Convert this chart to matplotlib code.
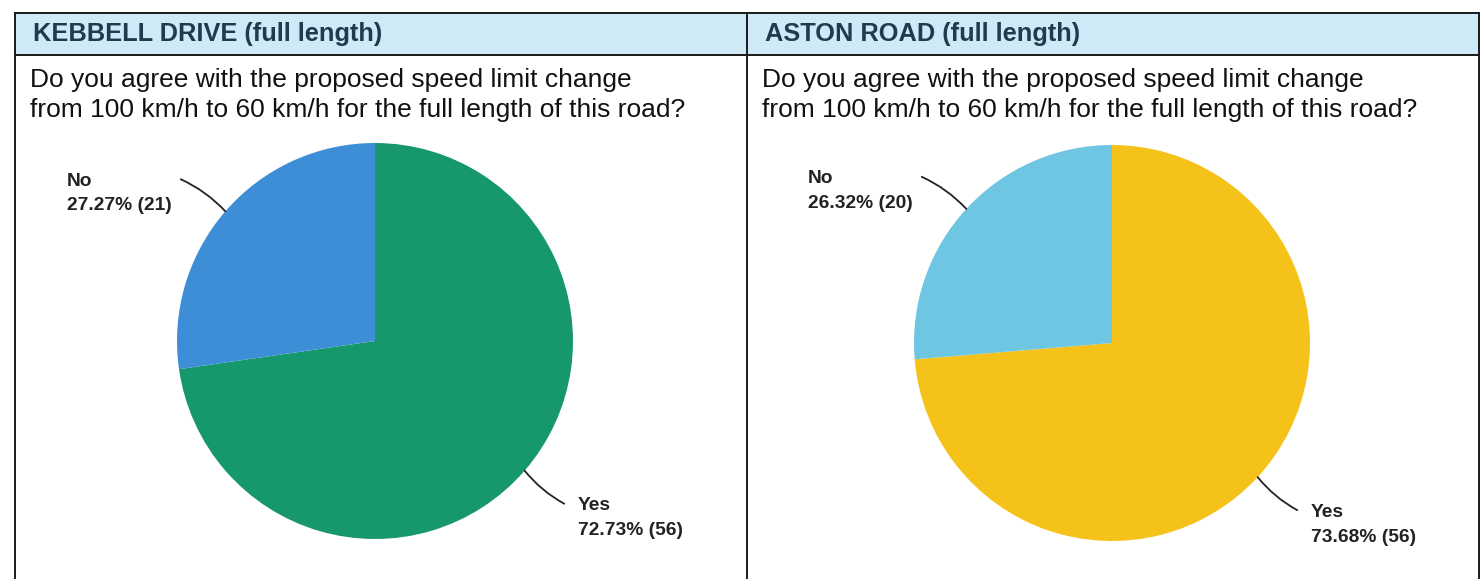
import matplotlib.pyplot as plt
import numpy as np
from matplotlib.lines import Line2D
from matplotlib.patches import Rectangle

plt.rcParams['font.family'] = ['Liberation Sans', 'DejaVu Sans']

titles = ['KEBBELL DRIVE (full length)', 'ASTON ROAD (full length)']
question = 'Do you agree with the proposed speed limit change\nfrom 100 km/h to 60 km/h for the full length of this road?'
answers = ['Yes', 'No']
kebbell_counts = [56, 21]
kebbell_pct = [72.73, 27.27]
aston_counts = [56, 20]
aston_pct = [73.68, 26.32]
kebbell_colors = ['#16986c', '#3d8ed6']
aston_colors = ['#f5c21a', '#6fc6e2']

W, H = 1481, 579
fig = plt.figure(figsize=(W / 100, H / 100), dpi=100)


def fx(px):
    return px / W


def fy(py):
    return 1 - py / H


# table frame
left, mid, right, top, hdr = 15, 747, 1479, 13, 55
fig.patches.append(Rectangle((fx(left), fy(hdr)), fx(right - left), fy(top) - fy(hdr),
                             transform=fig.transFigure, facecolor='#cfe9f7', edgecolor='none', zorder=0))
for x0, y0, x1, y1 in [(left, top, right, top), (left, hdr, right, hdr),
                       (left, top, left, H), (mid, top, mid, H), (right, top, right, H)]:
    fig.lines.append(Line2D([fx(x0), fx(x1)], [fy(y0), fy(y1)], transform=fig.transFigure,
                            color='#1a1a1a', lw=1.4))

panels = [
    (titles[0], kebbell_counts, kebbell_pct, kebbell_colors, left, 375, 341),
    (titles[1], aston_counts, aston_pct, aston_colors, mid, 1112, 343),
]
r = 198
for title, counts, pct, colors, x0, cx, cy in panels:
    fig.text(fx(x0 + 18), fy(34), title, fontsize=18.3, fontweight='bold', color='#1f3b4e', va='center')
    fig.text(fx(x0 + 15), fy(95), question, fontsize=19, color='#111111', va='center', linespacing=1.3)

    ax = fig.add_axes([fx(cx - r), fy(cy + r), fx(2 * r), fy(cy - r) - fy(cy + r)])
    wedges, _ = ax.pie(counts, colors=colors, startangle=90, counterclock=False,
                       wedgeprops=dict(linewidth=0))
    ax.set_xlim(-1, 1)
    ax.set_ylim(-1, 1)
    ax.set_aspect('equal')
    for w, name, c, p in zip(wedges, answers, counts, pct):
        ang = np.deg2rad((w.theta1 + w.theta2) / 2)
        ex, ey = np.cos(ang), np.sin(ang)
        if ex < 0:
            lx, ly = ex - 0.225, ey + 0.162
            tx, ty = ex - 0.80, ey + 0.09
        else:
            lx, ly = ex + 0.2, ey - 0.167
            tx, ty = ex + 0.27, ey - 0.24
        ax.annotate('', xy=(ex, ey), xytext=(lx, ly), annotation_clip=False,
                    arrowprops=dict(arrowstyle='-', color='#222222', lw=1.3,
                                    connectionstyle='arc3,rad=-0.1',
                                    shrinkA=0, shrinkB=0))
        ax.text(tx, ty, f'{name}\n{p:.2f}% ({c})', fontsize=13.8, fontweight='bold',
                color='#222222', ha='left', va='center', linespacing=1.6)

fig.savefig('out.png', dpi=100, facecolor='white')
